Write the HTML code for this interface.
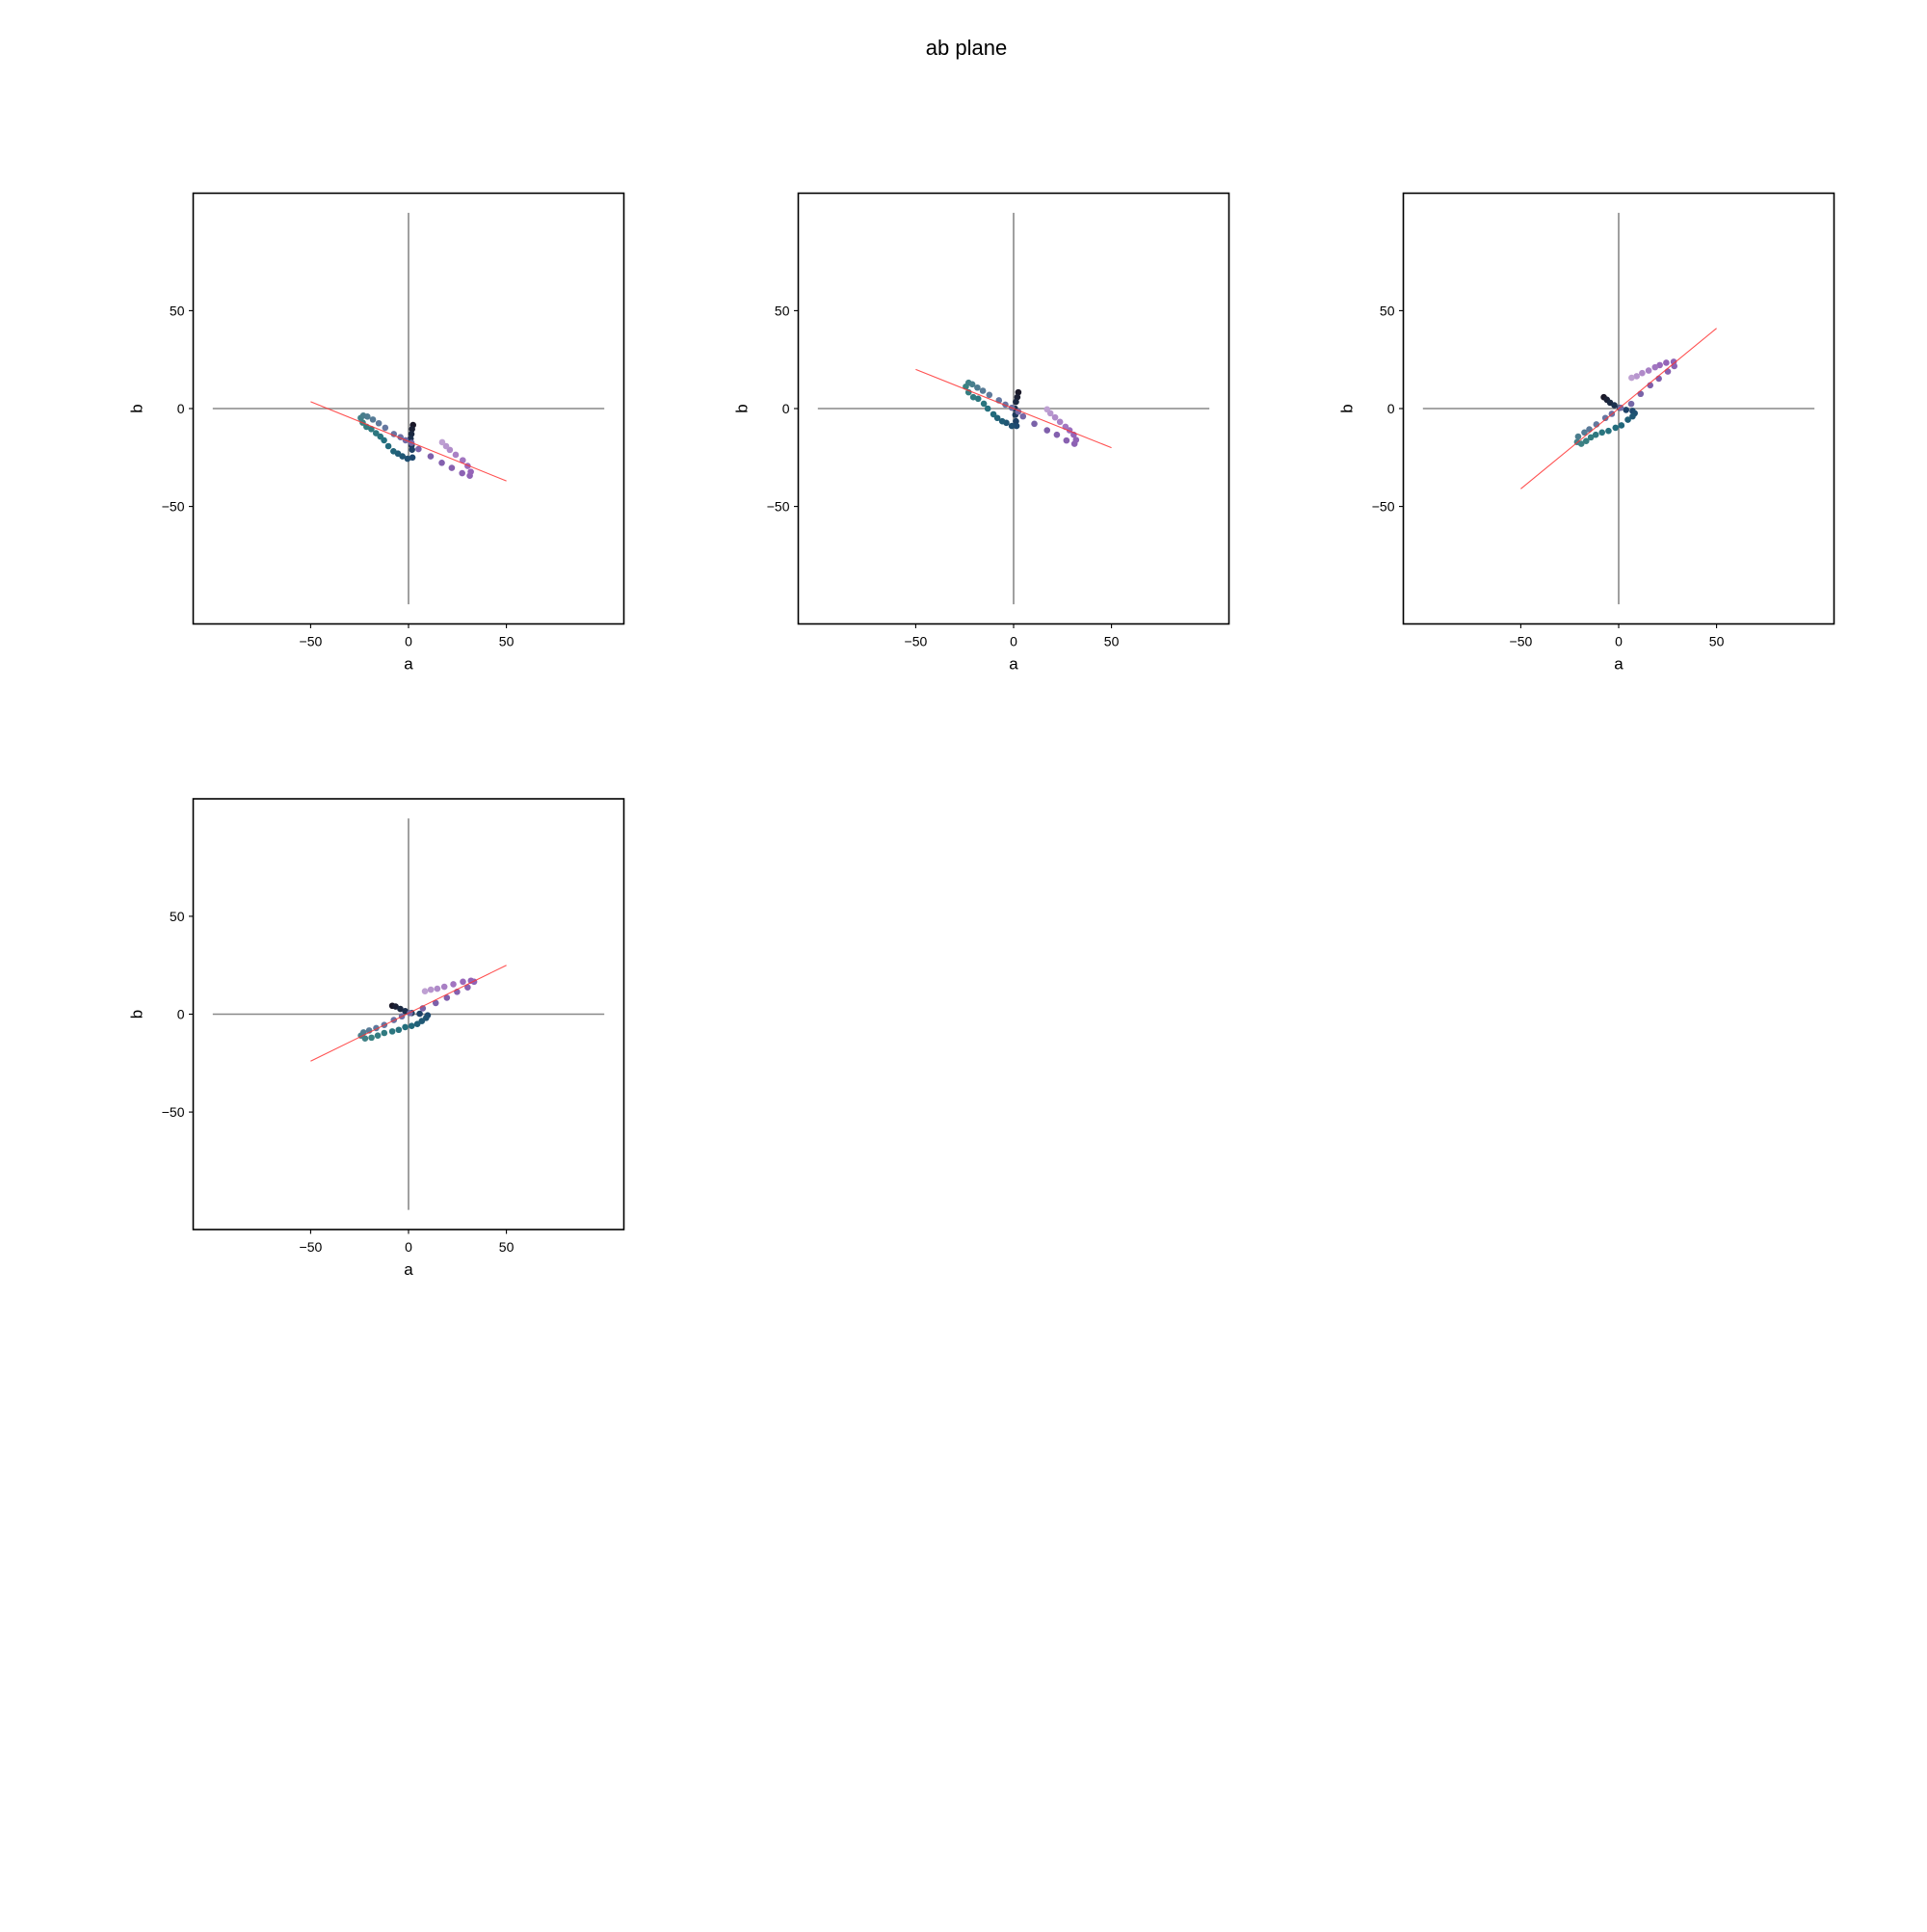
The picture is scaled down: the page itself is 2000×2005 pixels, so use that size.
<!DOCTYPE html>
<html><head><meta charset="utf-8"><style>
html,body{margin:0;padding:0;background:#fff;}
svg text{font-family:"Liberation Sans","DejaVu Sans",sans-serif;fill:#000;}
</style></head><body>
<svg id="fig" width="2000" height="2000" viewBox="0 0 2000 2000" xmlns="http://www.w3.org/2000/svg">
<rect width="2000" height="2000" fill="#fff"/>
<text x="1003" y="57" font-size="22" text-anchor="middle">ab plane</text>
</svg>
<script>
const panelLefts = [200.5, 828.5, 1456.5, 200.5];
const panelTops = [200.5, 200.5, 200.5, 829];
const tickValues = [-50, 0, 50];
const tickLabels = ["\u221250", "0", "50"];
const fitStart = [3.5, 20, -41, -24];
const fitEnd = [-37, -20, 41, 25];
const panel1A = [2.3,1.8,1.5,1.1,1.6,1.8,2,-0.5,-3.1,-5.4,-7.7,-10.3,-12.5,-14.4,-16.6,-19,-21.5,-23.4,-24.4,-23.1,-21,-18.2,-15.2,-11.9,-7.5,-4.1,-1.5,1.5,5.1,11.3,17,22.1,27.4,31.3,31.8,30.2,27.7,24.1,21.1,19.2,17.2];
const panel1B = [-8.4,-10.5,-13,-15.4,-18.7,-21,-25,-25.6,-24.4,-23,-21.8,-19.2,-16.2,-14.3,-12.6,-10.5,-9.3,-7.2,-4.8,-3.6,-4.1,-5.6,-7.5,-9.8,-13,-14.6,-16.2,-17.5,-20.7,-24.4,-27.7,-30.3,-33,-34.3,-32.3,-29.3,-26.4,-23.6,-21.1,-19.2,-17.2];
const panel2A = [2.4,1.9,1.2,0.7,0.9,1.2,1.5,-0.9,-3.7,-5.8,-8.3,-10.3,-13.2,-15.2,-18.1,-20.6,-23,-24.4,-23,-21.1,-18.5,-15.7,-12.4,-7.5,-4.2,-0.9,2.4,4.8,10.6,17.1,22.1,27,31.1,31.9,30.7,28.6,26.5,23.7,21.2,18.8,17.1];
const panel2B = [8.3,5.8,3.4,0,-3.2,-6.5,-8.9,-8.9,-7.3,-6.5,-4.8,-2.9,0,2.5,5,5.8,8.3,11.2,13.2,12.4,10.7,9.1,7,4.2,2,0.4,-1.6,-4,-7.8,-11.1,-13.4,-16.3,-18,-16,-13.4,-11.1,-9.3,-6.8,-4.5,-2.4,-0.4];
const panel3A = [-7.6,-6,-4.4,-2.2,0.6,3.8,7.1,8.2,7.1,4.7,1.4,-1.6,-5.2,-8.5,-11.7,-14.2,-16.6,-19.1,-21.2,-20.7,-17.5,-15,-11.4,-6.8,-3.5,1,6.4,11.2,16.1,20.5,25.1,28.4,28.1,24.3,21,18.6,15.3,12,9.2,6.6];
const panel3B = [5.8,4.5,3,1.7,0.4,-0.7,-1.2,-2.4,-4,-5.7,-8.6,-9.8,-11.4,-12.2,-13.4,-14.7,-16.6,-18,-17.1,-14.3,-12.2,-10.6,-8.1,-4.8,-2.7,0.4,2.4,7.5,11.9,15.3,18.9,21.7,23.9,23.4,22.2,21.1,19.4,18.1,16.5,15.7];
const panel4A = [-8.3,-6.6,-4.2,-1.7,1.6,5.7,9.8,9,6.8,4.5,1.6,-1.7,-5,-8.3,-12.4,-15.7,-18.9,-22.2,-24.3,-23,-20.1,-16.5,-12.4,-7.5,-3.4,0.7,7.3,13.9,19.6,24.8,30.2,33.5,31.9,27.8,22.9,18.3,14.7,11.4,8.4];
const panel4B = [4.3,3.9,2.7,1.6,0.6,0.2,-0.6,-1.9,-3.5,-5,-6,-6.6,-8,-8.8,-9.6,-10.9,-12,-12.4,-10.9,-9.3,-8.3,-7.1,-5.5,-3,-1.1,0.6,3,5.7,8.4,11.4,13.7,16.6,17.1,16.6,15.3,14,13,12.5,11.7];
const panelA = [panel1A, panel2A, panel3A, panel4A];
const panelB = [panel1B, panel2B, panel3B, panel4B];

const NS = "http://www.w3.org/2000/svg";
const svg = document.getElementById("fig");
const SIZE = 447, LIM = 110;
const stops = [[26,24,40],[30,70,110],[34,110,125],[58,130,130],[100,120,160],[125,95,170],[150,100,185],[190,160,210]];
function colorAt(t){
  const p = t*(stops.length-1); const i = Math.min(Math.floor(p), stops.length-2); const f = p-i;
  const c = stops[i].map((v,k)=>Math.round(v+(stops[i+1][k]-v)*f));
  return "rgb("+c.join(",")+")";
}
function mk(tag, attrs, parent){
  const e = document.createElementNS(NS, tag);
  for (const k in attrs) e.setAttribute(k, attrs[k]);
  (parent||svg).appendChild(e); return e;
}
for (let p = 0; p < 4; p++){
  const L = panelLefts[p], T = panelTops[p];
  const sx = v => L + (v + LIM) / (2*LIM) * SIZE;
  const sy = v => T + (LIM - v) / (2*LIM) * SIZE;
  const g = mk("g", {});
  
  
  const h = mk("line", {x1: sx(-100), x2: sx(100), y1: sy(0), y2: sy(0), stroke: "#888", "stroke-width": 1.6}, g);
  
  
  const v = mk("line", {x1: sx(0), x2: sx(0), y1: sy(-100), y2: sy(100), stroke: "#888", "stroke-width": 1.6}, g);
  
  
  const A = panelA[p], B = panelB[p], n = A.length;
  for (let i = 0; i < n; i++){
    const c = mk("circle", {cx: sx(A[i]), cy: sy(B[i]), r: 3.3, fill: colorAt(i/(n-1))}, g);
    
    
  }
  const fl = mk("line", {x1: sx(-50), y1: sy(fitStart[p]), x2: sx(50), y2: sy(fitEnd[p]), stroke: "#ff3333", "stroke-width": 1.1, opacity: 0.85}, g);
  
  
  const fr = mk("rect", {x: L, y: T, width: SIZE, height: SIZE, fill: "none", stroke: "#000", "stroke-width": 1.6}, g);
  
  
  for (let k = 0; k < tickValues.length; k++){
    const tv = tickValues[k];
    mk("line", {x1: sx(tv), x2: sx(tv), y1: T+SIZE, y2: T+SIZE+4.5, stroke: "#000", "stroke-width": 1.1}, g);
    const tx = mk("text", {x: sx(tv), y: T+SIZE+23, "font-size": 14, "text-anchor": "middle"}, g);
    tx.textContent = tickLabels[k];
    
    
    mk("line", {x1: L-4.5, x2: L, y1: sy(tv), y2: sy(tv), stroke: "#000", "stroke-width": 1.1}, g);
    const ty = mk("text", {x: L-9, y: sy(tv)+5, "font-size": 14, "text-anchor": "end"}, g);
    ty.textContent = tickLabels[k];
    
    
  }
  const xl = mk("text", {x: L+SIZE/2, y: T+SIZE+47, "font-size": 17, "text-anchor": "middle"}, g);
  xl.textContent = "a";
  
  
  const yx = L-53, yy = T+SIZE/2;
  const yl = mk("text", {x: yx, y: yy, "font-size": 17, "text-anchor": "middle", transform: "rotate(-90 "+yx+" "+yy+")"}, g);
  yl.textContent = "b";
  
  
}
</script>
</body></html>
